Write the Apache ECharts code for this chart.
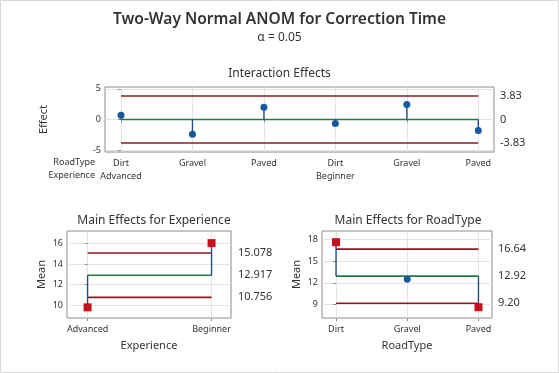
<!DOCTYPE html>
<html>
<head>
<meta charset="utf-8">
<script src="https://cdn.jsdelivr.net/npm/echarts@6/dist/echarts.min.js"></script>
<style>
html,body{margin:0;padding:0;background:#fff;}
#chart{width:559px;height:373px;}
</style>
</head>
<body>
<div id="chart"></div>
<script>
// ---------- Data ----------
const roadTypes = ['Dirt', 'Gravel', 'Paved', 'Dirt', 'Gravel', 'Paved'];
const experienceRow = ['Advanced', '', '', 'Beginner', '', ''];
const interactionEffects = [0.7, -2.4, 2.0, -0.65, 2.45, -1.8];
const interactionLimits = [-3.83, 0, 3.83];
const interactionLimitLabels = ['-3.83', '0', '3.83'];
const interactionTicks = [-5, 0, 5];

const experienceCats = ['Advanced', 'Beginner'];
const experienceMeans = [9.78, 16.05];
const experienceLimits = [10.756, 12.917, 15.078];
const experienceLimitLabels = ['10.756', '12.917', '15.078'];
const experienceTicks = [10, 12, 14, 16];

const roadCats = ['Dirt', 'Gravel', 'Paved'];
const roadMeans = [17.6, 12.5, 8.65];
const roadLimits = [9.20, 12.92, 16.64];
const roadLimitLabels = ['9.20', '12.92', '16.64'];
const roadTicks = [9, 12, 15, 18];

// ---------- Styles ----------
const FONT = '"Noto Sans", "Open Sans", sans-serif';
const C_LIMIT = '#8a1c22';
const C_CENTER = '#1f7a45';
const C_STEM = '#1d4f84';
const C_DOT = '#1659a0';
const C_RED = '#c8101c';
const C_GRID = '#e4e4e4';
const C_BOX = '#8c8c8c';
const C_TEXT = '#333';

function idx(arr) { return arr.map((_, i) => i); }

function panel(p) {
  const g = p.grid;
  const xs = idx(p.values);
  return {
    x: {
      type: 'value', gridIndex: g, min: p.xmin, max: p.xmax,
      axisLine: { show: false },
      splitLine: { show: false },
      axisTick: { show: true, customValues: xs, length: 3, lineStyle: { color: C_BOX } },
      axisLabel: {
        show: true, customValues: xs, margin: 5, fontFamily: FONT, fontSize: 9, color: C_TEXT,
        lineHeight: 13,
        formatter: p.xFormatter
      },
      name: p.xName, nameLocation: 'middle', nameGap: p.xNameGap,
      nameTextStyle: { fontFamily: FONT, fontSize: 11, color: C_TEXT }
    },
    y: {
      type: 'value', gridIndex: g, min: p.ymin, max: p.ymax,
      axisLine: { show: false },
      splitLine: { show: false },
      axisTick: { show: true, customValues: p.ticks, length: 3, lineStyle: { color: C_BOX } },
      axisLabel: { show: true, customValues: p.ticks, margin: 4, fontFamily: FONT, fontSize: 9, color: C_TEXT },
      name: p.yName, nameLocation: 'middle', nameGap: p.yNameGap, nameRotate: 90,
      nameTextStyle: { fontFamily: FONT, fontSize: 11, color: C_TEXT }
    },
    yr: {
      type: 'value', gridIndex: g, min: p.ymin, max: p.ymax, position: 'right',
      axisLine: { show: false }, axisTick: { show: false }, splitLine: { show: false },
      axisLabel: {
        show: true, customValues: p.limits, margin: p.rMargin, fontFamily: FONT, fontSize: 11, color: C_TEXT,
        formatter: (v) => { const i = p.limits.indexOf(v); return i >= 0 ? p.limitLabels[i] : ''; }
      }
    }
  };
}

const panels = [
  { grid: 0, values: interactionEffects, xmin: -0.224, xmax: 5.22, ymin: -5.3, ymax: 5.3,
    ticks: interactionTicks, limits: interactionLimits, limitLabels: interactionLimitLabels,
    xFormatter: (v) => roadTypes[v] + (experienceRow[v] ? '\n' + experienceRow[v] : ''),
    xName: '', xNameGap: 0, yName: 'Effect', yNameGap: 56, rMargin: 6, center: 0 },
  { grid: 1, values: experienceMeans, xmin: -0.166, xmax: 1.157, ymin: 8.74, ymax: 17.23,
    ticks: experienceTicks, limits: experienceLimits, limitLabels: experienceLimitLabels,
    xFormatter: (v) => experienceCats[v],
    xName: 'Experience', xNameGap: 22, yName: 'Mean', yNameGap: 20, rMargin: 7, center: experienceLimits[1] },
  { grid: 2, values: roadMeans, xmin: -0.197, xmax: 2.19, ymin: 7.16, ymax: 19.14,
    ticks: roadTicks, limits: roadLimits, limitLabels: roadLimitLabels,
    xFormatter: (v) => roadCats[v],
    xName: 'RoadType', xNameGap: 22, yName: 'Mean', yNameGap: 20, rMargin: 6, center: roadLimits[1] }
];

const xAxis = [], yAxis = [], series = [];
panels.forEach((p, k) => {
  const a = panel(p);
  xAxis.push(a.x);
  yAxis.push(a.y);
  yAxis.push(a.yr);
  const xi = k, yi = 2 * k;
  const n = p.values.length;
  const lo = Math.min(...p.limits), hi = Math.max(...p.limits);
  // grid lines (drawn beneath everything)
  series.push({
    type: 'line', xAxisIndex: xi, yAxisIndex: yi, data: [], silent: true, z: 0,
    markLine: {
      silent: true, symbol: 'none', label: { show: false }, animation: false, z: 0,
      lineStyle: { color: C_GRID, width: 1, type: 'solid' },
      emphasis: { disabled: true },
      data: idx(p.values).map(i => ({ xAxis: i })).concat(p.ticks.map(t => ({ yAxis: t })))
    }
  });
  // limit and center lines
  p.limits.forEach((L) => {
    series.push({
      type: 'line', xAxisIndex: xi, yAxisIndex: yi, silent: true, symbol: 'none', z: 3,
      lineStyle: { color: L === p.center ? C_CENTER : C_LIMIT, width: 1.6, opacity: 1 },
      data: [[0, L], [n - 1, L]], animation: false
    });
  });
  // stems
  series.push({
    type: 'custom', xAxisIndex: xi, yAxisIndex: yi, silent: true, z: 4, animation: false,
    data: p.values.map((v, i) => [i, v]),
    renderItem: (params, api) => {
      const x = api.value(0), v = api.value(1);
      const a0 = api.coord([x, p.center]);
      const a1 = api.coord([x, v]);
      return { type: 'line', shape: { x1: a0[0], y1: a0[1], x2: a1[0], y2: a1[1] },
               style: { stroke: C_STEM, lineWidth: 1.4 } };
    }
  });
  // points
  series.push({
    type: 'scatter', xAxisIndex: xi, yAxisIndex: yi, z: 5, silent: true, animation: false,
    data: p.values.map((v, i) => {
      const out = v > hi || v < lo;
      return {
        value: [i, v],
        symbol: out ? 'rect' : 'circle',
        symbolSize: out ? 8 : 7,
        itemStyle: { color: out ? C_RED : C_DOT, opacity: 1 }
      };
    })
  });
});

const gridBox = { show: true, borderColor: C_BOX, borderWidth: 1, backgroundColor: 'transparent', containLabel: false };

function txt(x, y, text, font, align) {
  return { type: 'text', x, y, silent: true,
    style: { text, font, fill: C_TEXT, align: align || 'center', verticalAlign: 'middle',
             textAlign: align || 'center', textVerticalAlign: 'middle' } };
}

const option = {
  animation: false,
  backgroundColor: '#fff',
  grid: [
    Object.assign({ left: 105, right: 65, top: 87, bottom: 221 }, gridBox),
    Object.assign({ left: 67, right: 328, top: 231, bottom: 55 }, gridBox),
    Object.assign({ left: 322, right: 67, top: 231, bottom: 55 }, gridBox)
  ],
  xAxis, yAxis, series,
  graphic: [
    { type: 'rect', shape: { x: 0.5, y: 0.5, width: 558, height: 372 }, style: { fill: 'none', stroke: '#d8d8d8', lineWidth: 1 }, silent: true },
    txt(279.5, 20, 'Two-Way Normal ANOM for Correction Time', '600 15.5px ' + FONT),
    txt(279.5, 38, 'α = 0.05', '12px ' + FONT),
    txt(279.5, 74, 'Interaction Effects', '12px ' + FONT),
    txt(154, 221, 'Main Effects for Experience', '12px ' + FONT),
    txt(408, 221, 'Main Effects for RoadType', '12px ' + FONT),
    txt(95, 162, 'RoadType', '9px ' + FONT, 'right'),
    txt(95, 175, 'Experience', '9px ' + FONT, 'right')
  ]
};

const chart = echarts.init(document.getElementById('chart'), null, { renderer: 'canvas' });
chart.setOption(option);
</script>
</body>
</html>
